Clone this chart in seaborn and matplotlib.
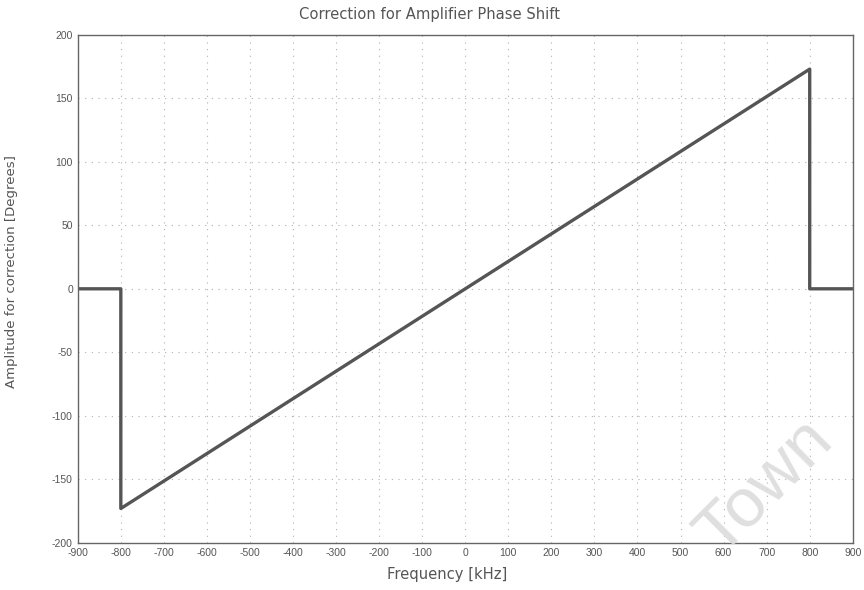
import numpy as np
import pandas as pd
import matplotlib
matplotlib.use("Agg")
import matplotlib.pyplot as plt
import seaborn as sns

# Data
freq_khz = [-900, -800, -800, 800, 800, 900]
phase_deg = [0, 0, -173, 173, 0, 0]
x_ticks = list(range(-900, 901, 100))
y_ticks = list(range(-200, 201, 50))

sns.set_theme(style="white")
plt.rcParams['font.family'] = ['Liberation Sans', 'DejaVu Sans']
plt.rcParams['axes.unicode_minus'] = False

df = pd.DataFrame({"Frequency": freq_khz, "Phase": phase_deg})

fig = plt.figure(figsize=(8.64, 5.9), dpi=100)
ax = fig.add_axes([0.090, 0.080, 0.897, 0.861])

sns.lineplot(data=df, x="Frequency", y="Phase", sort=False, estimator=None,
             color="#555555", linewidth=2.4, ax=ax)

ax.set_xlim(-900, 900)
ax.set_ylim(-200, 200)
ax.set_xticks(x_ticks)
ax.set_yticks(y_ticks)
ax.tick_params(axis="both", labelsize=7.5, colors="#555555", length=4,
               direction="in", width=0.8)
ax.tick_params(axis="x", pad=4)
ax.grid(True, linestyle=(0, (1, 5)), color="#b0b0b0", linewidth=0.8)
for s in ax.spines.values():
    s.set_color("#666666")
    s.set_linewidth(1.0)

lab_font = ['DejaVu Sans']
ax.set_title("Correction for Amplifier Phase Shift", fontsize=10.6, color="#555555",
             family=lab_font, x=0.454, y=1.039, pad=0, va="center")
ax.set_xlabel("Frequency [kHz]", fontsize=10.6, color="#555555", family=lab_font)
ax.xaxis.set_label_coords(0.476, -0.063)
ax.xaxis.label.set_va("center")
ax.set_ylabel("Amplitude for correction [Degrees]", fontsize=9.5, color="#555555",
              family=lab_font)
ax.yaxis.set_label_coords(-0.085, 0.533)
ax.yaxis.label.set_va("center")

# watermark
fig.text(0.885, 0.175, "Town", fontsize=50, color="#dcdcdc", rotation=45,
         ha="center", va="center", alpha=0.9, zorder=0)

fig.savefig("out.png", dpi=100, facecolor="white")
